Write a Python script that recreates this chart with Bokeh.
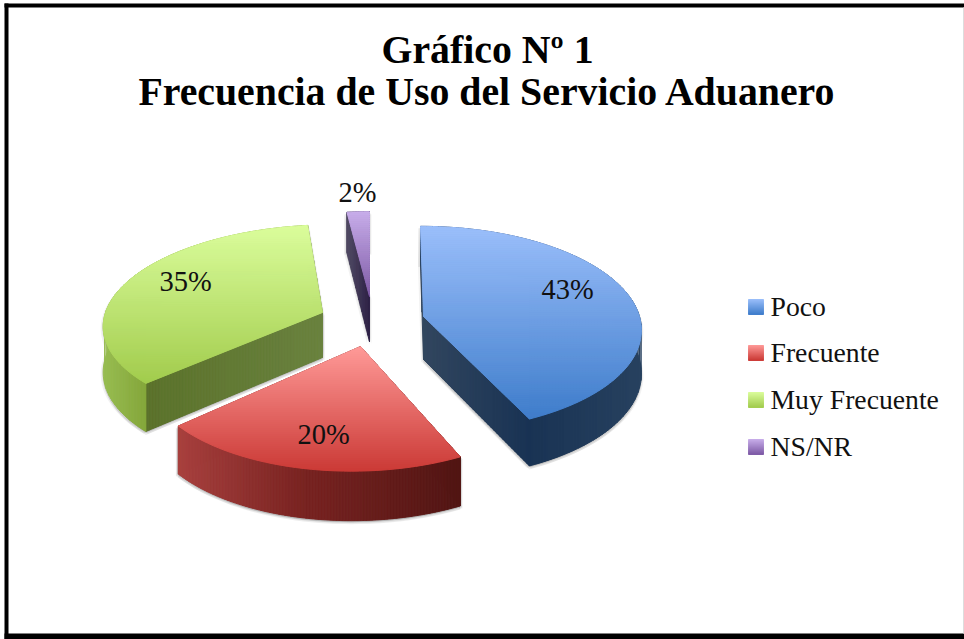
import math
from bokeh.plotting import figure
from bokeh.models import Range1d
from bokeh.core.properties import value
from bokeh.embed import file_html
from bokeh.resources import INLINE

# ---- data
categories = ["Poco", "Frecuente", "Muy Frecuente", "NS/NR"]
shares = [43, 20, 35, 2]
title_lines = ["Gráfico Nº 1", "Frecuencia de Uso del Servicio Aduanero"]

# ---- layout / style
W, H = 964, 639
depths = [43, 45, 45, 45]
# per slice: half axes, perspective strength, horizontal shear of the projection
shape = [(216, 101, 0.12, 3), (210, 101, 0.19, -9), (217, 96.5, 0.10, -10), (214, 101, 0.19, 0)]
centers = [(423, 316), (360, 346), (322, 312), (369, 296)]
label_pos = [(567, 289), (323, 434), (185, 281), (357, 192)]
legend_y = [298, 344, 391, 438]
top_colors = [("#9BBFFB", "#3F7DCB"), ("#FF9A98", "#CB3A36"), ("#DBFD9C", "#A2CC4E"), ("#C8AEEA", "#7E5AA6")]
wall_stops = [
    [(417, "#2B4463"), (528, "#193354"), (641, "#27415F")],
    [(177, "#A9413F"), (300, "#7A2422"), (460, "#521614")],
    [(105, "#97BC50"), (147, "#84A63A")],
    [(349, "#4E4862"), (369, "#2F2247")],
]
plane_stops = [
    [(417, "#33475F"), (528, "#193354")],
    [(360, "#7A2422"), (460, "#521614")],
    [(143, "#5B722B"), (322, "#6A823F")],
    [(349, "#4E4862"), (369, "#2F2247")],
]
FONT = "Liberation Serif"


def hex2rgb(c):
    return tuple(int(c[i:i + 2], 16) for i in (1, 3, 5))


def ramp(stops, t):
    if t <= stops[0][0]:
        return stops[0][1]
    for (a, ca), (b, cb) in zip(stops, stops[1:]):
        if t <= b:
            f = (t - a) / (b - a)
            ra, rb = hex2rgb(ca), hex2rgb(cb)
            return "#%02x%02x%02x" % tuple(round(x + (y - x) * f) for x, y in zip(ra, rb))
    return stops[-1][1]


def half(poly, axis, lim, keep_gt):
    out = []
    n = len(poly)
    inside = lambda q: q[axis] >= lim if keep_gt else q[axis] <= lim
    for i in range(n):
        a, b = poly[i], poly[(i + 1) % n]
        ia, ib = inside(a), inside(b)
        if ia:
            out.append(a)
        if ia != ib:
            f = (lim - a[axis]) / (b[axis] - a[axis])
            out.append((a[0] + (b[0] - a[0]) * f, a[1] + (b[1] - a[1]) * f))
    return out


def bands(poly, axis, stops, step=2.0):
    vals = [q[axis] for q in poly]
    lo, hi = min(vals), max(vals)
    xs, ys, cols = [], [], []
    t = lo
    while t < hi:
        piece = half(half(poly, axis, t, True), axis, t + step, False) if poly else []
        if len(piece) >= 3:
            xs.append([q[0] for q in piece])
            ys.append([q[1] for q in piece])
            cols.append(ramp(stops, t + step / 2))
        t += step
    return xs, ys, cols


def paint(p, poly, axis, stops, step=2.0):
    xs, ys, cols = bands(poly, axis, stops, step)
    p.patches(xs, ys, fill_color=cols, line_color=cols, line_width=1.0)


def proj(theta, i):
    rx, ry, persp, shear = shape[i]
    a = math.radians(theta)
    u, v = math.sin(a), -math.cos(a)
    k = 1 / (1 - persp * v)
    return centers[i][0] + rx * u * k + shear * v, centers[i][1] + ry * v * k, v


def lower(x, y, v, d):
    return x, y + d * (1 + 0.1 * v)


p = figure(width=W, height=H, x_range=Range1d(0, W), y_range=Range1d(H, 0),
           output_backend="svg", toolbar_location=None, min_border=0,
           background_fill_color="white", outline_line_color=None,
           margin=(0, 0, 0, 0))
p.axis.visible = False
p.grid.visible = False

# slice geometry from the shares
start = 0.0
geo = []
for i, s in enumerate(shares):
    end = start + s * 3.6
    n = max(4, int(s * 2))
    arc = [proj(start + (end - start) * j / n, i) for j in range(n + 1)]
    top = [(x, y) for x, y, _ in arc]
    bot = [lower(*a, depths[i]) for a in arc]
    ax, ay = centers[i]
    axb, ayb = lower(ax, ay, 0, depths[i])
    poly_top = [(ax, ay)] + top
    wall = top + bot[::-1]
    plane_a = [(ax, ay), top[0], bot[0], (axb, ayb)]
    plane_b = [(ax, ay), top[-1], bot[-1], (axb, ayb)]
    geo.append((poly_top, wall, plane_a, plane_b))
    start = end

# soft shadows below everything
for dx, dy, al in [(-2.5, 2, .05), (2, 2.5, .05), (0, 3.5, .07), (-1, 1.5, .08), (1, 1.5, .08)]:
    xs, ys = [], []
    for g in geo:
        for poly in g[1:]:
            xs.append([q[0] + dx for q in poly])
            ys.append([q[1] + dy for q in poly])
    p.patches(xs, ys, fill_color="black", fill_alpha=al, line_color=None)

# back to front
for i in (3, 0, 2, 1):
    poly_top, wall, plane_a, plane_b = geo[i]
    paint(p, plane_a, 0, plane_stops[i], 1.5)
    paint(p, plane_b, 0, plane_stops[i], 1.5)
    paint(p, wall, 0, wall_stops[i], 1.5)
    ylo = min(q[1] for q in poly_top)
    yhi = max(q[1] for q in poly_top)
    paint(p, poly_top, 1, [(ylo, top_colors[i][0]), (yhi, top_colors[i][1])], 2.0)

# data labels
p.text([q[0] for q in label_pos], [q[1] for q in label_pos], text=[f"{s}%" for s in shares],
       text_font=value(FONT), text_font_size="28.5px", text_color="#111111",
       text_align="center", text_baseline="middle")

# legend
for i, name in enumerate(categories):
    y0 = [299, 345, 392, 439][i]
    square = [(748, y0), (763, y0), (763, y0 + 15), (748, y0 + 15)]
    paint(p, square, 1, [(y0, top_colors[i][0]), (y0 + 15, top_colors[i][1])], 1.0)
p.text([770] * 4, [y + 8 for y in legend_y], text=categories,
       text_font=value(FONT), text_font_size="27.7px", text_color="#111111",
       text_align="left", text_baseline="middle")

# title
p.text([487, 487], [49, 91], text=title_lines, text_font=value(FONT), text_font_size="39.8px",
       text_font_style="bold", text_color="black", text_align="center", text_baseline="middle")

# frame of the picture
p.quad(left=[4, 4, 4], right=[8, W, W], top=[3, 3, 633], bottom=[H, 7, H],
       fill_color="black", line_color=None)
p.quad(left=[962.5], right=[W], top=[7], bottom=[633], fill_color="#dddddd", line_color=None)

open("out.html", "w").write(file_html(p, INLINE))
